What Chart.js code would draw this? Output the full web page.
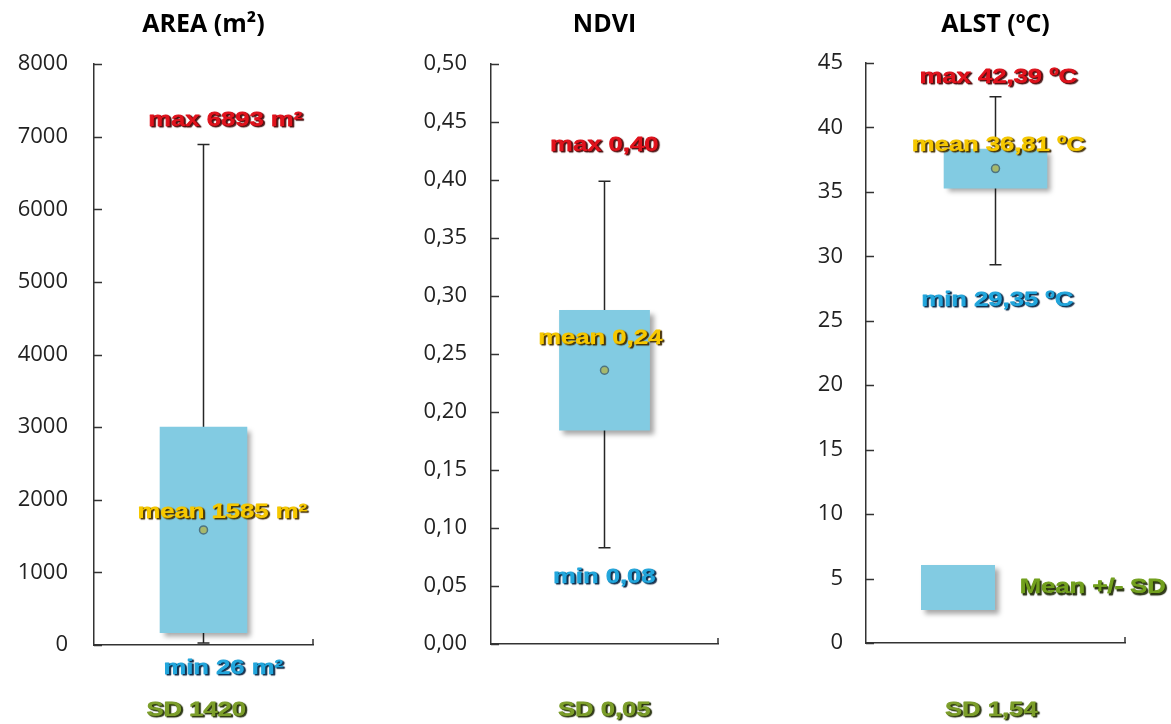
<!DOCTYPE html>
<html>
<head>
<meta charset="utf-8">
<script src="https://cdn.jsdelivr.net/npm/chart.js@4.4.1/dist/chart.umd.min.js"></script>
<style>
  body { margin: 0; background: #fff; }
  #wrap { position: relative; width: 1171px; height: 724px; overflow: hidden; }
  canvas { position: absolute; top: 0; }
</style>
</head>
<body>
<div id="wrap">
  <canvas id="c0" width="400" height="724" style="left:0"></canvas>
  <canvas id="c1" width="380" height="724" style="left:400px"></canvas>
  <canvas id="c2" width="391" height="724" style="left:780px"></canvas>
</div>
<script>
// one panel per variable
var titles      = ['AREA (m²)', 'NDVI', 'ALST (ºC)'];
var minValues   = [26, 0.083, 29.35];
var maxValues   = [6893, 0.399, 42.39];
var meanValues  = [1585, 0.236, 36.81];
var sdValues    = [1420, 0.052, 1.54];
var units       = [' m²', '', ' ºC'];
var decimals    = [0, 2, 2];
var axisMax     = [8000, 0.5, 45];
var axisStep    = [1000, 0.05, 5];
var tickDecimals = [0, 2, 0];
var legendLabel = 'Mean +/- SD';

var BOX = '#82cbe2';
var LABEL_FONT = 'bold 21px "Liberation Sans", Arial, sans-serif';

// canvas layout (pixels), labels are [x offset from whisker, y]
var frames = [
  { axisW: 94, top: 64, padR: 87, padB: 79, tickPad: 26,
    lbl: { max: [22, 120], mean: [19, 512], min: [20, 668], sd: [-7, 710] } },
  { axisW: 91, top: 64, padR: 62, padB: 80, tickPad: 24,
    lbl: { max: [0, 145], mean: [-4, 338], min: [0, 577], sd: [0, 710] } },
  { axisW: 86, top: 63, padR: 46, padB: 81, tickPad: 23,
    lbl: { max: [3, 77], mean: [3, 145], min: [2, 300], sd: [-4, 710] },
    legend: { x: 141, y: 565, w: 74, h: 45, textX: 240 } }
];

function fmt(v, d) {
  return v.toFixed(d).replace('.', ',');
}

// wordart-ish label: heavy fill with a dark drop shadow
function fancyText(ctx, text, x, y, align, color, shade) {
  ctx.save();
  ctx.font = LABEL_FONT;
  ctx.textBaseline = 'middle';
  ctx.textAlign = align;
  ctx.translate(x, y);
  ctx.scale(1.22, 1);
  ctx.shadowColor = shade;
  ctx.shadowOffsetX = 1.5;
  ctx.shadowOffsetY = 1.5;
  ctx.shadowBlur = 1;
  ctx.fillStyle = color;
  ctx.strokeStyle = color;
  ctx.lineWidth = 0.9;
  ctx.lineJoin = 'round';
  ctx.strokeText(text, 0, 0);
  ctx.fillText(text, 0, 0);
  ctx.restore();
}

var decor = {
  id: 'decor',
  beforeDatasetDraw: function(chart, args) {
    var ctx = chart.ctx;
    ctx.save();
    if (args.meta.type === 'bar') {
      ctx.shadowColor = 'rgba(0,0,0,0.35)';
      ctx.shadowOffsetX = 4;
      ctx.shadowOffsetY = 4;
      ctx.shadowBlur = 5;
    }
  },
  afterDatasetDraw: function(chart) {
    chart.ctx.restore();
  },
  afterDraw: function(chart) {
    var ctx = chart.ctx;
    var i = chart.options.panel;
    var f = frames[i];
    var area = chart.chartArea;
    var y = chart.scales.y;
    var x = chart.scales.x;

    // tick marks point into the plot
    ctx.save();
    ctx.strokeStyle = '#333';
    ctx.lineWidth = 1.5;
    ctx.beginPath();
    y.ticks.forEach(function(t, k) {
      var py = Math.round(y.getPixelForTick(k)) + 0.5;
      ctx.moveTo(area.left, py);
      ctx.lineTo(area.left + 8, py);
    });
    ctx.moveTo(area.right, area.bottom);
    ctx.lineTo(area.right, area.bottom - 6);
    ctx.stroke();
    ctx.restore();

    var cx = x.getPixelForValue(0);
    var u = units[i], d = decimals[i];
    fancyText(ctx, 'max ' + fmt(maxValues[i], d) + u, cx + f.lbl.max[0], f.lbl.max[1], 'center', '#e0121c', 'rgba(60,0,0,0.9)');
    fancyText(ctx, 'mean ' + fmt(meanValues[i], d) + u, cx + f.lbl.mean[0], f.lbl.mean[1], 'center', '#f6c800', 'rgba(60,40,0,0.95)');
    fancyText(ctx, 'min ' + fmt(minValues[i], d) + u, cx + f.lbl.min[0], f.lbl.min[1], 'center', '#22a6dc', 'rgba(0,25,55,0.9)');
    fancyText(ctx, 'SD ' + fmt(sdValues[i], d), cx + f.lbl.sd[0], f.lbl.sd[1], 'center', '#7c9e2a', 'rgba(25,35,0,0.9)');

    if (f.legend) {
      var L = f.legend;
      ctx.save();
      ctx.shadowColor = 'rgba(0,0,0,0.35)';
      ctx.shadowOffsetX = 4;
      ctx.shadowOffsetY = 4;
      ctx.shadowBlur = 5;
      ctx.fillStyle = chart.data.datasets[1].backgroundColor;
      ctx.fillRect(L.x, L.y, L.w, L.h);
      ctx.restore();
      fancyText(ctx, legendLabel, L.textX, L.y + L.h / 2, 'left', '#72a01e', 'rgba(25,35,0,0.9)');
    }
  }
};

titles.forEach(function(title, i) {
  var f = frames[i];
  var ctx = document.getElementById('c' + i).getContext('2d');
  var titleSize = 25;
  var titleH = titleSize * 1.2;
  var padTop = 25 - titleH / 2;

  new Chart(ctx, {
    type: 'bar',
    data: {
      labels: [title],
      datasets: [
        {
          type: 'line',
          data: [{ x: title, y: meanValues[i] }],
          showLine: false,
          pointRadius: 4,
          pointBackgroundColor: '#a6b86c',
          pointBorderColor: '#4d7482',
          pointBorderWidth: 1.5
        },
        {
          type: 'bar',
          data: [[meanValues[i] - sdValues[i], meanValues[i] + sdValues[i]]],
          backgroundColor: BOX,
          borderWidth: 0,
          barPercentage: 0.4,
          categoryPercentage: 1
        },
        {
          type: 'line',
          data: [{ x: title, y: minValues[i] }, { x: title, y: maxValues[i] }],
          borderColor: '#262626',
          borderWidth: 1.5,
          pointStyle: 'line',
          pointRadius: 6,
          pointBorderWidth: 1.5,
          pointBorderColor: '#262626'
        }
      ]
    },
    options: {
      panel: i,
      responsive: false,
      animation: false,
      events: [],
      layout: { padding: { left: 0, top: 0, right: f.padR, bottom: f.padB } },
      plugins: {
        legend: { display: false },
        tooltip: { enabled: false },
        title: {
          display: true,
          text: title,
          fullSize: false,
          color: '#000',
          font: { family: 'Open Sans', size: titleSize, weight: 'bold', lineHeight: 1.2 },
          padding: { top: padTop, bottom: f.top - padTop - titleH }
        }
      },
      scales: {
        x: {
          ticks: { display: false },
          grid: { display: false, drawTicks: false },
          border: { display: true, color: '#333', width: 1.5 },
          afterFit: function(s) { s.height = 0; }
        },
        y: {
          min: 0,
          max: axisMax[i],
          ticks: {
            stepSize: axisStep[i],
            padding: f.tickPad,
            color: '#222',
            font: { family: 'Open Sans', size: 22 },
            callback: function(v) { return fmt(v, tickDecimals[i]); }
          },
          grid: { display: false, drawTicks: false },
          border: { display: true, color: '#333', width: 1.5 },
          afterFit: function(s) { s.width = f.axisW; }
        }
      }
    },
    plugins: [decor]
  });
});
</script>
</body>
</html>
